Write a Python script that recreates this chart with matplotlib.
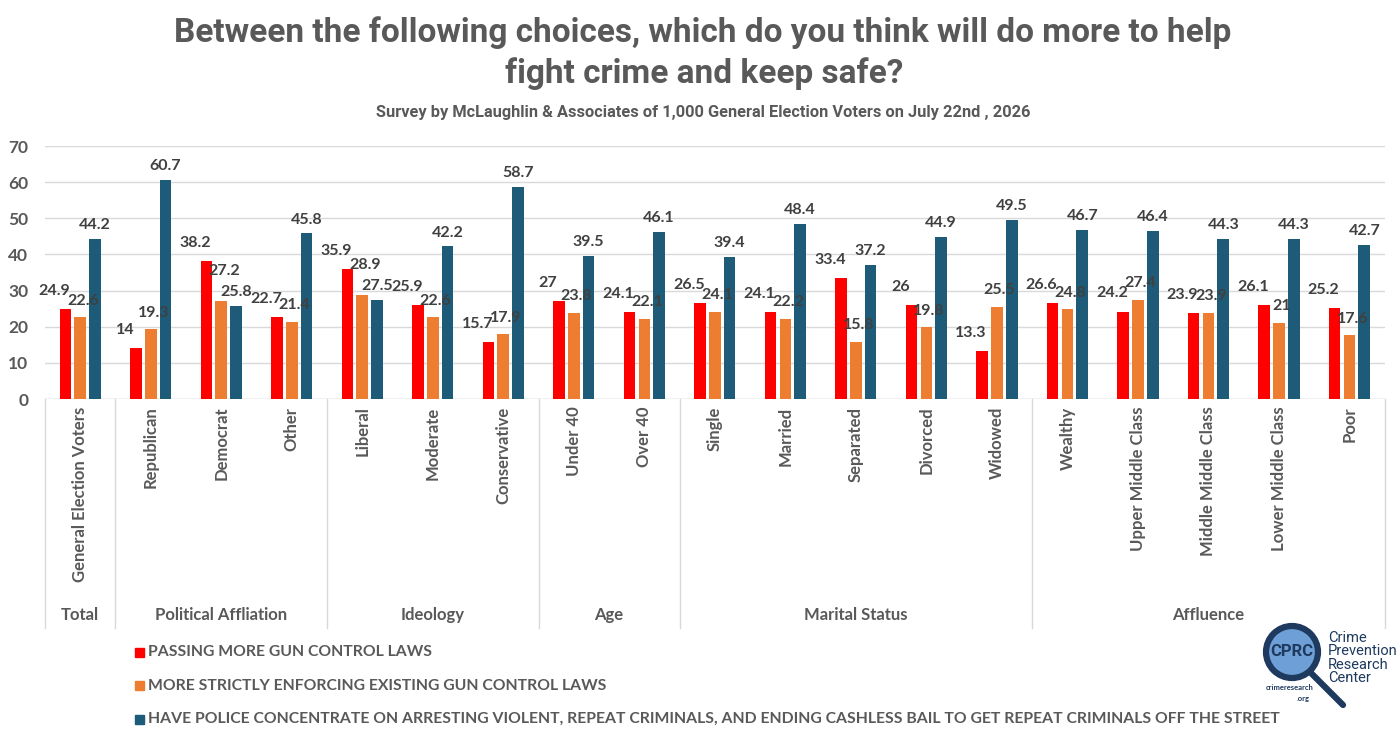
import matplotlib
matplotlib.use("Agg")
import matplotlib.pyplot as plt
from matplotlib.patches import Rectangle, Circle
import matplotlib.transforms as mtransforms

# - DATA -
groups = ["Total", "Political Affliation", "Ideology", "Age", "Marital Status", "Affluence"]
group_sizes = [1, 3, 3, 2, 5, 5]
categories = ["General Election Voters", "Republican", "Democrat", "Other",
              "Liberal", "Moderate", "Conservative", "Under 40", "Over 40",
              "Single", "Married", "Separated", "Divorced", "Widowed",
              "Wealthy", "Upper Middle Class", "Middle Middle Class",
              "Lower Middle Class", "Poor"]
gun_laws = [24.9, 14, 38.2, 22.7, 35.9, 25.9, 15.7, 27, 24.1, 26.5, 24.1, 33.4,
            26, 13.3, 26.6, 24.2, 23.9, 26.1, 25.2]
enforce = [22.6, 19.3, 27.2, 21.4, 28.9, 22.6, 17.9, 23.8, 22.1, 24.1, 22.2, 15.8,
           19.8, 25.5, 24.8, 27.4, 23.9, 21, 17.6]
police = [44.2, 60.7, 25.8, 45.8, 27.5, 42.2, 58.7, 39.5, 46.1, 39.4, 48.4, 37.2,
          44.9, 49.5, 46.7, 46.4, 44.3, 44.3, 42.7]
series_names = ["PASSING MORE GUN CONTROL LAWS",
                "MORE STRICTLY ENFORCING EXISTING GUN CONTROL LAWS",
                "HAVE POLICE CONCENTRATE ON ARRESTING VIOLENT, REPEAT CRIMINALS, AND ENDING CASHLESS BAIL TO GET REPEAT CRIMINALS OFF THE STREET"]
# - DATA -

colors = ["#ff0000", "#ed7d31", "#1d5b79"]
gray = "#595959"
grid = "#d9d9d9"
body_font = ["Lato", "DejaVu Sans"]
title_font = ["Liberation Sans Narrow", "Roboto", "DejaVu Sans"]
plt.rcParams["font.family"] = body_font

fig = plt.figure(figsize=(14, 7.4), dpi=100)
ax = fig.add_axes([0.0321, 0.4608, 0.957, 0.3419])

n = len(categories)
x = list(range(n))
width = 0.165
offsets = [-0.21, 0.0, 0.21]
lab_off = [(-8, 8), (2, 7), (0, 5)]
all_vals = [gun_laws, enforce, police]
for k, (vals, off, col, lo) in enumerate(zip(all_vals, offsets, colors, lab_off)):
    xs = [i + off for i in x]
    ax.bar(xs, vals, width=width, color=col, zorder=3)
    for i, (xi, v) in enumerate(zip(xs, vals)):
        dx, dy = lo
        # lift the orange label when it would collide with the blue one
        if k == 1 and abs(police[i] - v) < 3:
            dy += 9
        ax.annotate(f"{v:g}", (xi, v), xytext=(dx, dy), textcoords="offset points",
                    ha="center", va="bottom", fontsize=11.5, fontweight="bold",
                    color="#404040", zorder=4)

ax.set_xlim(-0.5, n - 0.5)
ax.set_ylim(0, 70)
ax.set_yticks(range(0, 71, 10))
ax.yaxis.grid(True, color=grid, lw=1, zorder=0)
ax.set_xticks([])
for s in ax.spines.values():
    s.set_visible(False)
ax.axhline(0, color=grid, lw=1, zorder=2)
ax.tick_params(axis="y", length=0, labelsize=12.5, labelcolor=gray, pad=12)
for t in ax.get_yticklabels():
    t.set_fontweight("bold")

# multi-level category axis
trans = mtransforms.blended_transform_factory(ax.transData, ax.transAxes)
for i, c in enumerate(categories):
    ax.text(i, -0.03, c, rotation=90, ha="center", va="top", transform=trans,
            fontsize=12, fontweight="bold", color=gray)
start = 0
bounds = [-0.5]
for g, sz in zip(groups, group_sizes):
    mid = start + (sz - 1) / 2
    ax.text(mid, -0.855, g, ha="center", va="center", transform=trans,
            fontsize=12, fontweight="bold", color=gray)
    start += sz
    bounds.append(start - 0.5)
for b in bounds:
    ax.plot([b, b], [0, -0.905], color=grid, lw=1, transform=trans, clip_on=False)

# titles
fig.text(0.502, 1 - 33 / 740, "Between the following choices, which do you think will do more to help",
         ha="center", va="center", fontsize=24, fontweight="bold", color=gray, family=title_font)
fig.text(0.503, 1 - 74 / 740, "fight crime and keep safe?",
         ha="center", va="center", fontsize=24, fontweight="bold", color=gray, family=title_font)
fig.text(0.502, 1 - 113 / 740, "Survey by McLaughlin & Associates of 1,000 General Election Voters on July 22nd , 2026",
         ha="center", va="center", fontsize=11.8, fontweight="bold", color=gray, family=title_font)

# legend
for k, (name, col) in enumerate(zip(series_names, colors)):
    yc = 1 - (652 + 33.5 * k) / 740
    fig.patches.append(Rectangle((135 / 1400, yc - 4.5 / 740), 9 / 1400, 9 / 740,
                                 transform=fig.transFigure, color=col))
    fig.text(148 / 1400, yc, name, ha="left", va="center", fontsize=11.3,
             fontweight="bold", color=gray)

# logo
lax = fig.add_axes([1255 / 1400, 28 / 740, 145 / 1400, 92 / 740])
lax.set_xlim(0, 145)
lax.set_ylim(0, 92)
lax.set_aspect("equal")
lax.axis("off")
navy = "#1f3a5f"
lax.plot([56, 88], [39, 7], color=navy, lw=4.5, solid_capstyle="round")
lax.add_patch(Circle((37, 60), 26, facecolor="#6e9fd6", edgecolor=navy, lw=4.5))
lax.text(37, 61, "CPRC", ha="center", va="center", fontsize=12, fontweight="bold",
         color=navy, family=title_font)
lax.text(73, 54, "Crime\nPrevention\nResearch\nCenter", ha="left", va="center",
         fontsize=10.5, color=navy, linespacing=0.95, family=["Roboto", "DejaVu Sans"])
lax.text(35, 24, "crimeresearch", ha="center", va="center", fontsize=5.5,
         fontweight="bold", color=navy)
lax.text(48, 14, ".org", ha="center", va="center", fontsize=5.5,
         fontweight="bold", color=navy)

fig.savefig("out.png", dpi=100, facecolor="white")
